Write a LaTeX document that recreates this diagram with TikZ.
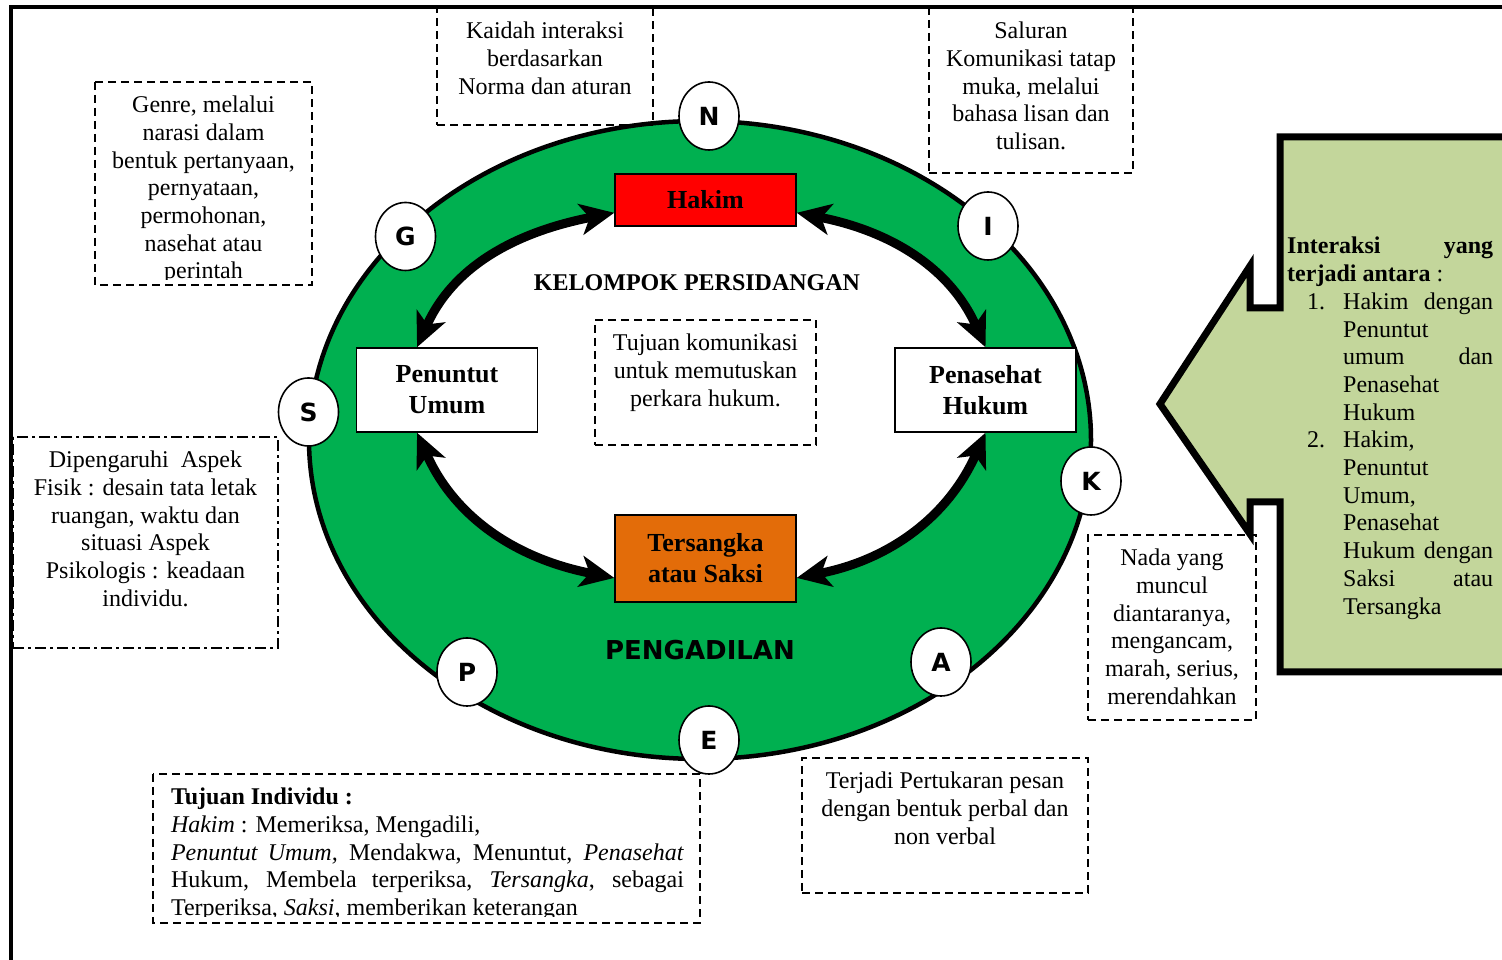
\documentclass[tikz,border=0pt]{standalone}
\usepackage{fontspec}
\setmainfont{Liberation Serif}
\setsansfont{DejaVu Sans}
\usetikzlibrary{positioning,shapes.geometric,arrows.meta}

\definecolor{ringgreen}{HTML}{00B050}
\definecolor{judgered}{HTML}{FF0000}
\definecolor{witnessorange}{HTML}{E36C09}
\definecolor{panelolive}{HTML}{C3D69B}

\pgfdeclarelayer{background}
\pgfsetlayers{background,main}

\tikzset{
  bigtip/.tip={Stealth[length=34pt,width=31pt,inset=9pt]},
  dashbox/.style={draw,line width=1.8pt,dash pattern=on 8pt off 5pt,inner sep=0pt,outer sep=0pt,anchor=north west},
  dotdashbox/.style={draw,line width=1.8pt,dash pattern=on 11pt off 4pt on 3pt off 4pt,inner sep=0pt,outer sep=0pt,anchor=north west},
  role/.style={draw,line width=1.5pt,minimum width=181pt,inner sep=0pt,align=center,font=\fontsize{26}{31}\selectfont\bfseries},
  letter/.style={ellipse,draw,line width=1.6pt,fill=white,minimum width=60pt,minimum height=68pt,inner sep=0pt,font=\fontsize{25}{25}\selectfont\sffamily\bfseries},
  link/.style={line width=9pt,bigtip-bigtip},
}
\newcommand{\boxtext}[3]{\parbox[c][#2][t]{#1}{\vspace*{14pt}\centering #3}}

\begin{document}
\begin{tikzpicture}[x=1pt,y=1pt,font=\fontsize{24}{27.7}\selectfont]
\useasboundingbox (0,0) rectangle (1502,960);

\node[dashbox] (kaidah) at (437,952) {\boxtext{216pt}{117pt}{Kaidah interaksi\\berdasarkan\\Norma dan aturan}};
\node[dashbox] (saluran) at (929,952) {\boxtext{204pt}{165pt}{Saluran\\Komunikasi tatap\\muka, melalui\\bahasa lisan dan\\tulisan.}};
\begin{scope}
\clip (95,680.5) rectangle (312,878);
\node[dashbox,draw=none] (genre) at (95,878) {\boxtext{217pt}{203pt}{Genre, melalui\\narasi dalam\\bentuk pertanyaan,\\pernyataan,\\permohonan,\\nasehat atau\\perintah}};
\end{scope}
\draw[dashbox] (genre.north west) rectangle (genre.south east);
\node[dotdashbox] (fisik) at (13,523) {\boxtext{265pt}{211pt}{Dipengaruhi\ \ Aspek\\Fisik : desain tata letak\\ruangan, waktu dan\\situasi Aspek\\Psikologis : keadaan\\individu.}};
\node[dashbox] (tujuan) at (595,640) {\boxtext{221pt}{125pt}{Tujuan komunikasi\\untuk memutuskan\\perkara hukum.}};
\node[dashbox] (nada) at (1088,425) {\boxtext{168pt}{185pt}{Nada yang\\muncul\\diantaranya,\\mengancam,\\marah, serius,\\merendahkan}};
\node[dashbox] (pesan) at (802,202) {\boxtext{286pt}{135pt}{Terjadi Pertukaran pesan\\dengan bentuk perbal dan\\non verbal}};
\begin{scope}
\clip (153,43.5) rectangle (700,186);
\node[dashbox,draw=none] (individu) at (153,186) {\parbox[c][149pt][t]{547pt}{\vspace*{14pt}\leftskip=18pt\rightskip=16pt\tolerance=10000\hbadness=10000
\textbf{Tujuan Individu :}\\
\textit{Hakim} : Memeriksa, Mengadili,\\
\textit{Penuntut Umum,} Mendakwa, Menuntut, \textit{Penasehat}\linebreak
Hukum, Membela terperiksa, \textit{Tersangka}, sebagai\linebreak
Terperiksa, \textit{Saksi}, memberikan keterangan}};
\end{scope}
\draw[dashbox] (individu.north west) rectangle (individu.south east);

\node[role,fill=judgered,minimum height=52pt] (hakim) at (705.5,760) {Hakim};
\node[role,fill=white,minimum height=84pt] (penuntut) at (447,570) {Penuntut\\Umum};
\node[role,fill=white,minimum height=84pt] (penasehat) at (985.5,570) {Penasehat\\Hukum};
\node[role,fill=witnessorange,minimum height=87pt] (tersangka) at (705.5,401.5) {Tersangka\\atau Saksi};

\begin{pgfonlayer}{background}
\draw[line width=4.5pt,fill=ringgreen] (700,520) ellipse [x radius=391pt,y radius=319pt];
\fill[white] (hakim.188) to[out=191,in=66] (penuntut.125) -- (penuntut.235) to[out=-66,in=169] (tersangka.192)
  -- (tersangka.348) to[out=11,in=246] (penasehat.south) -- (penasehat.north) to[out=114,in=-11] (hakim.352) -- cycle;
\end{pgfonlayer}

\draw[link] (hakim.188) to[out=191,in=66] (penuntut.125);
\draw[link] (hakim.352) to[out=-11,in=114] (penasehat.north);
\draw[link] (penuntut.235) to[out=-66,in=169] (tersangka.192);
\draw[link] (penasehat.south) to[out=246,in=11] (tersangka.348);

\node[font=\fontsize{24}{27.7}\selectfont\bfseries] (kelompok) at (697,677) {KELOMPOK PERSIDANGAN};
\node[font=\fontsize{26}{26}\selectfont\sffamily\bfseries] (pengadilan) at (700,310) {PENGADILAN};

\node[letter] (circN) at (709,844) {N};
\node[letter] (circG) at (405.5,723.5) {G};
\node[letter] (circI) at (988,734) {I};
\node[letter] (circS) at (308.5,548) {S};
\node[letter] (circK) at (1091,479) {K};
\node[letter] (circP) at (467,288) {P};
\node[letter] (circE) at (709,220) {E};
\node[letter] (circA) at (941,298) {A};

\draw[line width=7pt,fill=panelolive,line join=miter] (1512,823) -- (1280,823) -- (1280,652) -- (1250,652) -- (1250,694)
  -- (1160,556) -- (1250,426) -- (1250,458) -- (1280,458) -- (1280,288) -- (1512,288);
\node[anchor=base west,inner sep=0pt] (interaksi) at (1287,706) {\parbox[t]{206pt}{%
\textbf{Interaksi\hfill yang}\\
\textbf{terjadi antara} :\\
\hspace*{20pt}\makebox[36pt][l]{1.}Hakim\hfill dengan\\
\hspace*{56pt}Penuntut\\
\hspace*{56pt}umum\hfill dan\\
\hspace*{56pt}Penasehat\\
\hspace*{56pt}Hukum\\
\hspace*{20pt}\makebox[36pt][l]{2.}Hakim,\\
\hspace*{56pt}Penuntut\\
\hspace*{56pt}Umum,\\
\hspace*{56pt}Penasehat\\
\hspace*{56pt}Hukum\hfill dengan\\
\hspace*{56pt}Saksi\hfill atau\\
\hspace*{56pt}Tersangka}};

\draw[line width=4pt] (10.5,0) -- (10.5,953) -- (1502,953);
\end{tikzpicture}
\end{document}
